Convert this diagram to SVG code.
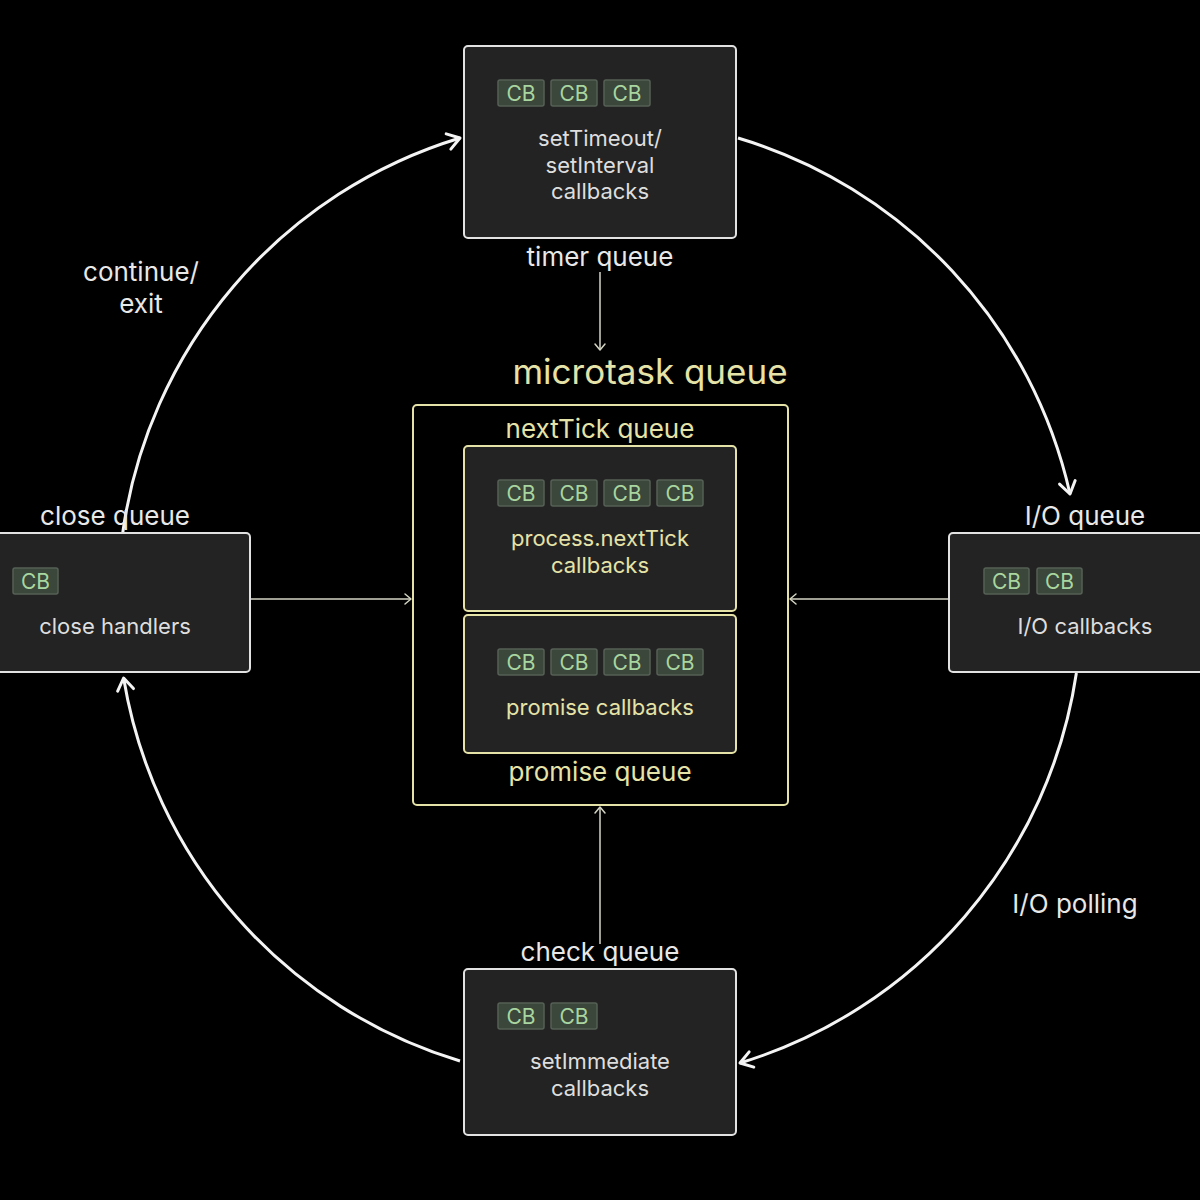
<svg xmlns="http://www.w3.org/2000/svg" width="1200" height="1200" viewBox="0 0 1200 1200">
<defs>
<style>
text{font-family:Inter,"Liberation Sans",sans-serif;text-anchor:middle}
.box{fill:#232323;stroke:#e2e2e2;stroke-width:2}
.ybox{fill:#232323;stroke:#e4e2a6;stroke-width:2}
.outer{fill:#000;stroke:#e4e2a6;stroke-width:2}
.chip{fill:#3a473a;stroke:#566056;stroke-width:1.5}
.cb{fill:#a9d6a0;font-size:21px}
.t{fill:#dedede;font-size:22px}
.yt{fill:#e6e3a8;font-size:22px}
.lbl{fill:#e8e8e8;font-size:26px}
.ylbl{fill:#e6e3a8;font-size:26px}
.arc{fill:none;stroke:#f4f4f4;stroke-width:3;marker-end:url(#big)}
.thin{fill:none;stroke:#d4d4c4;stroke-width:1.5;marker-end:url(#small)}
</style>
<marker id="big" viewBox="0 0 20 20" refX="17" refY="10" markerWidth="20" markerHeight="20" markerUnits="userSpaceOnUse" orient="auto">
<path d="M5 2 L17 10 L5 18" fill="none" stroke="#f4f4f4" stroke-width="3" stroke-linecap="round" stroke-linejoin="round"/>
</marker>
<marker id="small" viewBox="0 0 14 14" refX="12" refY="7" markerWidth="14" markerHeight="14" markerUnits="userSpaceOnUse" orient="auto">
<path d="M6 2 L12 7 L6 12" fill="none" stroke="#d4d4c4" stroke-width="1.5" stroke-linecap="round" stroke-linejoin="round"/>
</marker>
</defs>
<rect width="1200" height="1200" fill="#000"/>

<g id="connectors">
<path class="arc" d="M122.7 533 A482 482 0 0 1 460 138"/>
<path class="arc" d="M738 138 A482 482 0 0 1 1070 494"/>
<path class="arc" d="M1076.4 673 A482 482 0 0 1 740 1063"/>
<path class="arc" d="M460 1061 A482 482 0 0 1 123.6 678"/>
<line class="thin" x1="600" y1="272" x2="600" y2="350"/>
<line class="thin" x1="251" y1="599" x2="411" y2="599"/>
<line class="thin" x1="948" y1="599" x2="790" y2="599"/>
<line class="thin" x1="600" y1="944" x2="600" y2="807"/>
</g>

<g id="labels">
<text class="lbl" x="141" y="281">continue/</text>
<text class="lbl" x="141" y="313">exit</text>
<text class="lbl" x="1075" y="913">I/O polling</text>
</g>

<g id="timer">
<rect class="box" x="464" y="46" width="272" height="192" rx="4"/>
<rect class="chip" x="498" y="80" width="46" height="26" rx="2"/>
<rect class="chip" x="551" y="80" width="46" height="26" rx="2"/>
<rect class="chip" x="604" y="80" width="46" height="26" rx="2"/>
<text class="cb" x="521" y="100.5">CB</text>
<text class="cb" x="574" y="100.5">CB</text>
<text class="cb" x="627" y="100.5">CB</text>
<text class="t" x="600" y="146">setTimeout/</text>
<text class="t" x="600" y="173">setInterval</text>
<text class="t" x="600" y="199">callbacks</text>
<text class="lbl" x="600" y="266">timer queue</text>
</g>

<g id="microtask">
<text class="ylbl" x="650" y="384" style="font-size:35px">microtask queue</text>
<rect class="outer" x="413" y="405" width="375" height="400" rx="4"/>
<text class="ylbl" x="600" y="438">nextTick queue</text>
<text class="ylbl" x="600" y="781">promise queue</text>
</g>

<g id="nextTick">
<rect class="ybox" x="464" y="446" width="272" height="165" rx="4"/>
<rect class="chip" x="498" y="480" width="46" height="26" rx="2"/>
<rect class="chip" x="551" y="480" width="46" height="26" rx="2"/>
<rect class="chip" x="604" y="480" width="46" height="26" rx="2"/>
<rect class="chip" x="657" y="480" width="46" height="26" rx="2"/>
<text class="cb" x="521" y="500.5">CB</text>
<text class="cb" x="574" y="500.5">CB</text>
<text class="cb" x="627" y="500.5">CB</text>
<text class="cb" x="680" y="500.5">CB</text>
<text class="yt" x="600" y="546">process.nextTick</text>
<text class="yt" x="600" y="573">callbacks</text>
</g>

<g id="promise">
<rect class="ybox" x="464" y="615" width="272" height="138" rx="4"/>
<rect class="chip" x="498" y="649" width="46" height="26" rx="2"/>
<rect class="chip" x="551" y="649" width="46" height="26" rx="2"/>
<rect class="chip" x="604" y="649" width="46" height="26" rx="2"/>
<rect class="chip" x="657" y="649" width="46" height="26" rx="2"/>
<text class="cb" x="521" y="669.5">CB</text>
<text class="cb" x="574" y="669.5">CB</text>
<text class="cb" x="627" y="669.5">CB</text>
<text class="cb" x="680" y="669.5">CB</text>
<text class="yt" x="600" y="715">promise callbacks</text>
</g>

<g id="close">
<text class="lbl" x="115" y="525">close queue</text>
<rect class="box" x="-6" y="533" width="256" height="139" rx="4"/>
<rect class="chip" x="13" y="568" width="45" height="26" rx="2"/>
<text class="cb" x="35.5" y="588.5">CB</text>
<text class="t" x="115" y="634">close handlers</text>
</g>

<g id="io">
<text class="lbl" x="1085" y="525">I/O queue</text>
<rect class="box" x="949" y="533" width="260" height="139" rx="4"/>
<rect class="chip" x="984" y="568" width="45" height="26" rx="2"/>
<rect class="chip" x="1037" y="568" width="45" height="26" rx="2"/>
<text class="cb" x="1006.5" y="588.5">CB</text>
<text class="cb" x="1059.5" y="588.5">CB</text>
<text class="t" x="1085" y="634">I/O callbacks</text>
</g>

<g id="check">
<text class="lbl" x="600" y="961">check queue</text>
<rect class="box" x="464" y="969" width="272" height="166" rx="4"/>
<rect class="chip" x="498" y="1003" width="46" height="26" rx="2"/>
<rect class="chip" x="551" y="1003" width="46" height="26" rx="2"/>
<text class="cb" x="521" y="1023.5">CB</text>
<text class="cb" x="574" y="1023.5">CB</text>
<text class="t" x="600" y="1069">setImmediate</text>
<text class="t" x="600" y="1096">callbacks</text>
</g>
</svg>
